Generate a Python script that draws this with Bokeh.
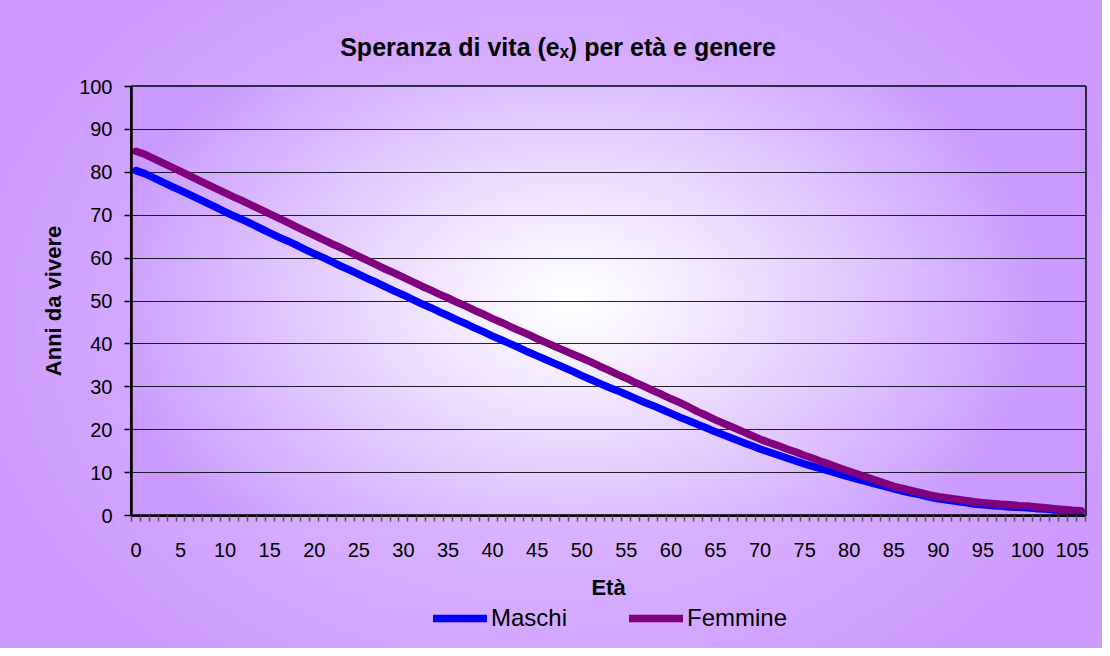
import numpy as np
from bokeh.plotting import figure
from bokeh.layouts import column
from bokeh.models import (FixedTicker, Range1d, Title, Legend, LegendItem,
                          ColumnDataSource)
from bokeh.embed import file_html
from bokeh.resources import INLINE

# ---------------- data ----------------
eta = list(range(0, 107))

maschi = [
    80.4, 79.7, 78.7, 77.7, 76.7, 75.8, 74.8, 73.8, 72.8, 71.8,
    70.8, 69.8, 68.9, 67.9, 66.9, 65.9, 64.9, 64.0, 63.0, 62.0,
    61.0, 60.1, 59.1, 58.1, 57.2, 56.2, 55.2, 54.3, 53.3, 52.3,
    51.4, 50.4, 49.4, 48.5, 47.5, 46.6, 45.6, 44.7, 43.7, 42.8,
    41.8, 40.9, 40.0, 39.1, 38.1, 37.2, 36.3, 35.4, 34.5, 33.6,
    32.6, 31.7, 30.8, 29.9, 29.1, 28.2, 27.3, 26.4, 25.6, 24.7,
    23.8, 22.9, 22.1, 21.2, 20.4, 19.5, 18.7, 17.9, 17.1, 16.3,
    15.5, 14.8, 14.1, 13.4, 12.7, 12.0, 11.4, 10.8, 10.2, 9.6,
    9.0, 8.4, 7.9, 7.3, 6.8, 6.2, 5.7, 5.2, 4.8, 4.3,
    3.9, 3.6, 3.3, 3.0, 2.7, 2.5, 2.3, 2.2, 2.0, 1.9,
    1.8, 1.6, 1.5, 1.3, 1.2, 1.0, 0.9,
]

femmine = [
    84.9, 84.2, 83.2, 82.2, 81.2, 80.2, 79.2, 78.2, 77.2, 76.2,
    75.2, 74.2, 73.3, 72.3, 71.3, 70.3, 69.3, 68.3, 67.3, 66.3,
    65.3, 64.3, 63.3, 62.4, 61.4, 60.4, 59.4, 58.4, 57.4, 56.5,
    55.5, 54.5, 53.5, 52.6, 51.6, 50.7, 49.7, 48.8, 47.8, 46.9,
    45.9, 45.0, 44.0, 43.1, 42.2, 41.2, 40.3, 39.4, 38.5, 37.6,
    36.7, 35.8, 34.8, 33.9, 32.9, 32.0, 31.0, 30.1, 29.1, 28.2,
    27.2, 26.3, 25.3, 24.2, 23.3, 22.3, 21.4, 20.5, 19.6, 18.7,
    17.8, 17.0, 16.3, 15.5, 14.8, 14.0, 13.3, 12.5, 11.8, 11.0,
    10.3, 9.6, 8.9, 8.2, 7.5, 6.8, 6.3, 5.8, 5.3, 4.8,
    4.4, 4.1, 3.8, 3.5, 3.2, 3.0, 2.8, 2.6, 2.5, 2.3,
    2.2, 2.0, 1.8, 1.6, 1.4, 1.2, 1.1,
]

x_tick_labels = [0, 5, 10, 15, 20, 25, 30, 35, 40, 45, 50, 55, 60, 65, 70,
                 75, 80, 85, 90, 95, 100, 105]
y_ticks = [0, 10, 20, 30, 40, 50, 60, 70, 80, 90, 100]

title_text = "Speranza di vita (e\u2093) per età e genere"
y_label = "Anni da vivere"
x_label = "Età"
series_names = ["Maschi", "Femmine"]
colors = ["#0000FF", "#800080"]

FONT = "Liberation Sans"

# ---------------- main figure ----------------
p = figure(
    width=1102, height=602,
    output_backend="svg", toolbar_location=None,
    x_range=Range1d(-0.5, eta[-1] + 0.5), y_range=Range1d(0, 100),
    min_border_left=131, min_border_right=17,
    min_border_top=86, min_border_bottom=87,
    background_fill_color=None, border_fill_color=None,
    outline_line_color="black", outline_line_width=2.5,
)

p.title = Title(text=title_text, align="left", offset=208.7, standoff=51,
                text_font=FONT, text_font_size="25px", text_font_style="bold",
                text_color="black")

# plot-area gradient (white centre -> lavender edges)
H, W = 215, 477
jj, ii = np.mgrid[0:H, 0:W]
fx = (ii + 0.5) / W
fy_top = 1.0 - (jj + 0.5) / H
t = np.sqrt(((fx - 0.462) / 0.503) ** 2 + ((fy_top - 0.50) / 0.77) ** 2)
t = np.clip(t, 0, 1) ** 1.15
img = np.empty((H, W), dtype=np.uint32)
view = img.view(dtype=np.uint8).reshape((H, W, 4))
view[..., 0] = (255 + (201 - 255) * t).astype(np.uint8)
view[..., 1] = (255 + (153 - 255) * t).astype(np.uint8)
view[..., 2] = 255
view[..., 3] = 255
p.image_rgba(image=[img], x=-0.5, y=0, dw=eta[-1] + 1, dh=100, level="image")

src = ColumnDataSource(dict(eta=eta, maschi=maschi, femmine=femmine))
p.line("eta", "maschi", source=src, line_color=colors[0], line_width=7.5,
       line_cap="round", line_join="round")
p.line("eta", "femmine", source=src, line_color=colors[1], line_width=7.5,
       line_cap="round", line_join="round")

p.xgrid.visible = False
p.ygrid.ticker = FixedTicker(ticks=y_ticks)
p.ygrid.grid_line_color = "black"
p.ygrid.grid_line_width = 1
p.ygrid.grid_line_alpha = 0.85

xa = p.xaxis[0]
xa.ticker = FixedTicker(ticks=x_tick_labels,
                        minor_ticks=[e - 0.5 for e in eta] + [eta[-1] + 0.5])
xa.axis_line_color = "black"
xa.axis_line_width = 2.5
xa.major_tick_out = 0
xa.major_tick_in = 0
xa.minor_tick_out = 6
xa.minor_tick_in = 0
xa.minor_tick_line_color = "#555555"
xa.minor_tick_line_width = 1.5
xa.major_label_text_font = FONT
xa.major_label_text_font_size = "20px"
xa.major_label_text_color = "black"
xa.major_label_standoff = 21
xa.axis_label = x_label
xa.axis_label_text_font = FONT
xa.axis_label_text_font_size = "22px"
xa.axis_label_text_font_style = "bold"
xa.axis_label_text_color = "black"
xa.axis_label_standoff = 15

ya = p.yaxis[0]
ya.ticker = FixedTicker(ticks=y_ticks)
ya.axis_line_color = "black"
ya.axis_line_width = 2.5
ya.major_tick_out = 7
ya.major_tick_in = 0
ya.major_tick_line_color = "black"
ya.major_tick_line_width = 1.5
ya.minor_tick_out = 0
ya.minor_tick_in = 0
ya.major_label_text_font = FONT
ya.major_label_text_font_size = "20px"
ya.major_label_text_color = "black"
ya.major_label_standoff = 12
ya.axis_label = y_label
ya.axis_label_text_font = FONT
ya.axis_label_text_font_size = "22px"
ya.axis_label_text_font_style = "bold"
ya.axis_label_text_color = "black"
ya.axis_label_standoff = 10

# ---------------- legend strip ----------------
q = figure(
    width=1102, height=46, output_backend="svg", toolbar_location=None,
    x_axis_type=None, y_axis_type=None,
    x_range=Range1d(1000, 1001), y_range=Range1d(1000, 1001),
    min_border=0, min_border_left=0, min_border_right=0,
    min_border_top=0, min_border_bottom=0,
    background_fill_color=None, border_fill_color=None,
    outline_line_color=None,
)
q.xgrid.visible = False
q.ygrid.visible = False
# same series, out of this strip's view: only their legend samples show
lm = q.line("eta", "maschi", source=src, line_color=colors[0], line_width=7.5,
            line_cap="round")
lf = q.line("eta", "femmine", source=src, line_color=colors[1], line_width=7.5,
            line_cap="round")
legend = Legend(
    items=[LegendItem(label=series_names[0], renderers=[lm]),
           LegendItem(label=series_names[1], renderers=[lf])],
    orientation="horizontal", location=(302, 16),
    background_fill_alpha=0, border_line_color=None,
    label_text_font=FONT, label_text_font_size="24px", label_text_color="black",
    glyph_width=54, glyph_height=26, label_height=26,
    label_standoff=4, spacing=62, padding=0, margin=0,
)
q.add_layout(legend, "center")

layout = column(
    p, q, spacing=0,
    styles={"background": "radial-gradient(ellipse 55% 70% at 50% 50%, #E4C8FF 0%, #CC99FF 100%)"},
)

open("out.html", "w").write(file_html(layout, INLINE))
